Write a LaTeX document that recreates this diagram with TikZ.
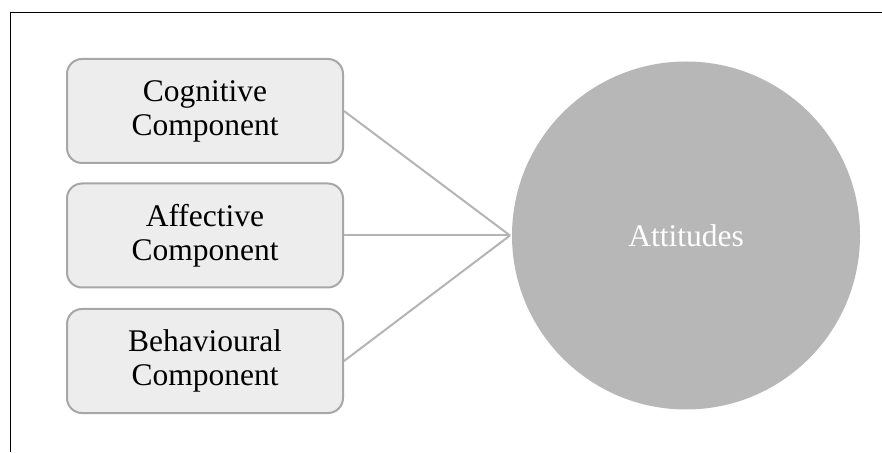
\documentclass[tikz,border=0pt]{standalone}
\usepackage{fontspec}
\setmainfont{Liberation Serif}
\begin{document}
\begin{tikzpicture}[x=1pt,y=1pt,
  compbox/.style={draw=boxline,fill=boxfill,line width=2pt,rounded corners=15pt,
    minimum width=276pt,minimum height=104pt,align=center,inner sep=0pt,
    font=\fontsize{31.5}{34}\selectfont},
  conn/.style={draw=connline,line width=2pt},
  attcircle/.style={circle,fill=circfill,minimum size=348pt,inner sep=0pt,
    text=white,font=\fontsize{31.5}{34}\selectfont}]
\definecolor{boxline}{HTML}{A8A6A7}
\definecolor{boxfill}{HTML}{EDEDED}
\definecolor{connline}{HTML}{B4B4B4}
\definecolor{circfill}{HTML}{B7B7B7}
\useasboundingbox (0,0) rectangle (882,452);
\draw[line width=1.8pt,black] (882,439.5) -- (10.5,439.5) -- (10.5,0);
\node[compbox] (cog) at (205,341) {Cognitive\\Component};
\node[compbox] (aff) at (205,216.5) {Affective\\Component};
\node[compbox] (beh) at (205,91) {Behavioural\\Component};
\node[attcircle] (att) at (686,216.5) {Attitudes};
\coordinate (j) at (510,216.5);
\draw[conn] (cog.east) -- (j);
\draw[conn] (aff.east) -- (j);
\draw[conn] (beh.east) -- (j);
\end{tikzpicture}
\end{document}
